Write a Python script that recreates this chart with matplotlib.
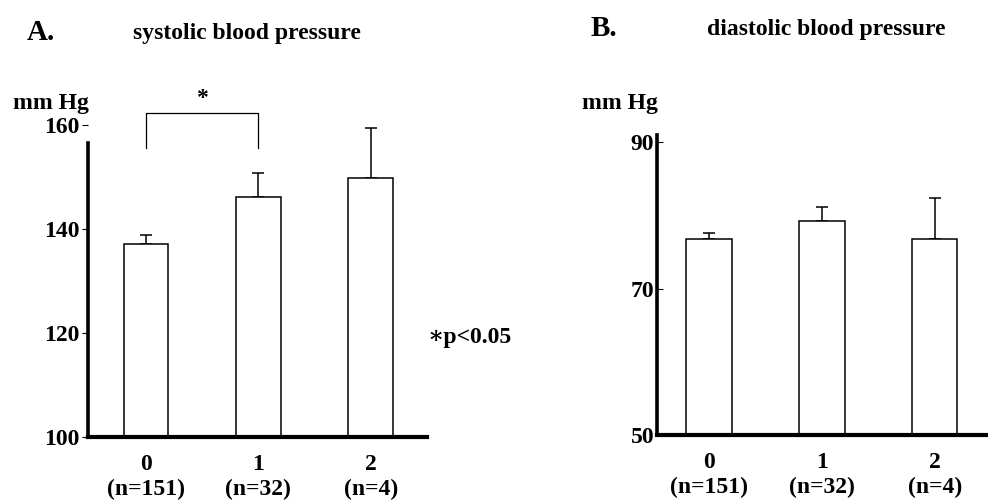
import matplotlib
matplotlib.use("Agg")
import matplotlib.pyplot as plt

plt.rcParams['font.family'] = ['Liberation Serif', 'DejaVu Serif']
plt.rcParams['font.weight'] = 'bold'

categories = ["0", "1", "2"]
n_labels = ["(n=151)", "(n=32)", "(n=4)"]
sys_mean = [137.1, 146.2, 149.8]
sys_err = [1.7, 4.6, 9.6]
dia_mean = [76.8, 79.2, 76.8]
dia_err = [0.8, 1.9, 5.6]
sys_ticks = [100, 120, 140, 160]
dia_ticks = [50, 70, 90]

W, H = 988, 500
fig = plt.figure(figsize=(W / 100, H / 100), dpi=100)

def frac(x0, y0, x1, y1):
    return [x0 / W, 1 - y1 / H, (x1 - x0) / W, (y1 - y0) / H]

axA = fig.add_axes(frac(88, 125, 427, 437))
axB = fig.add_axes(frac(657, 135, 988, 435))

xpos = list(range(len(categories)))
xt = [f"{c}\n{n}" for c, n in zip(categories, n_labels)]
FS = 17

def style(ax, means, errs, ylim, yticks, xlim, top_bound, tickdir):
    ax.bar(xpos, [m - ylim[0] for m in means], bottom=ylim[0], width=0.4,
           color='white', edgecolor='black', linewidth=1.1, zorder=2)
    ax.errorbar(xpos, means, yerr=[[0] * len(errs), errs], fmt='none',
                ecolor='black', elinewidth=1.1, capsize=4, capthick=1.1, zorder=1)
    ax.set_ylim(*ylim)
    ax.set_xlim(*xlim)
    ax.set_yticks(yticks)
    ax.set_yticklabels([str(t) for t in yticks], fontsize=FS, fontweight='bold')
    ax.set_xticks(xpos)
    ax.set_xticklabels(xt, fontsize=FS, fontweight='bold', linespacing=1.25)
    ax.tick_params(axis='x', length=0, pad=12)
    ax.tick_params(axis='y', direction=tickdir, length=4, width=0.8, pad=2)
    for s in ['top', 'right']:
        ax.spines[s].set_visible(False)
    ax.spines['left'].set_linewidth(2.6)
    ax.spines['bottom'].set_linewidth(3.0)
    ax.spines['left'].set_bounds(ylim[0], top_bound)

style(axA, sys_mean, sys_err, (100, 160), sys_ticks, (-0.516, 2.5), 156.5, 'out')
style(axB, dia_mean, dia_err, (50, 91), dia_ticks, (-0.46, 2.47), 91, 'in')

# significance bracket
axA.plot([0, 0, 1, 1], [155.6, 162.3, 162.3, 155.6], color='black', lw=0.9,
         clip_on=False)
axA.text(0.5, 163.0, "*", ha='center', va='bottom', fontsize=FS, fontweight='bold')

fig.text(427 / W, 1 - 337 / H, "∗p<0.05", ha='left', va='center', fontsize=FS,
         fontweight='bold', family=['Liberation Serif', 'DejaVu Serif'])

fig.text(27 / W, 1 - 32 / H, "A.", ha='left', va='center', fontsize=21, fontweight='bold')
fig.text(133 / W, 1 - 33 / H, "systolic blood pressure", ha='left', va='center',
         fontsize=17, fontweight='bold')
fig.text(591 / W, 1 - 28 / H, "B.", ha='left', va='center', fontsize=21, fontweight='bold')
fig.text(707 / W, 1 - 29 / H, "diastolic blood pressure", ha='left', va='center',
         fontsize=17, fontweight='bold')
fig.text(13 / W, 1 - 104 / H, "mm Hg", ha='left', va='center', fontsize=FS, fontweight='bold')
fig.text(582 / W, 1 - 104 / H, "mm Hg", ha='left', va='center', fontsize=FS, fontweight='bold')

fig.savefig("out.png", dpi=100)
